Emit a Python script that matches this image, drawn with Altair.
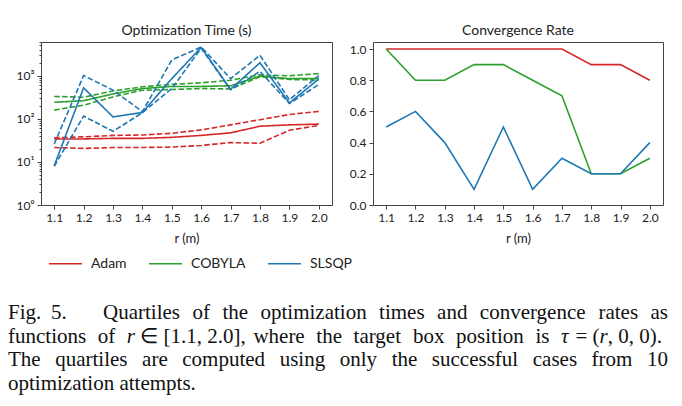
import altair as alt
import pandas as pd

# ---- values -------------------------------------------------------------
r_values = [1.1, 1.2, 1.3, 1.4, 1.5, 1.6, 1.7, 1.8, 1.9, 2.0]
methods = ["Adam", "COBYLA", "SLSQP"]
method_colors = ["#d62728", "#2ca02c", "#1f77b4"]

# optimization time quartiles (seconds)
adam_q1 = [21.5, 20.5, 21.5, 21.5, 22, 24, 28, 27, 54, 70]
adam_med = [34, 34, 35, 35, 37, 41, 47, 67, 72, 75]
adam_q3 = [36, 38, 41, 42, 46, 55, 72, 95, 125, 148]

cobyla_q1 = [158, 206, 320, 457, 475, 500, 490, 940, 810, 790]
cobyla_med = [240, 262, 375, 500, 560, 560, 580, 970, 850, 860]
cobyla_q3 = [328, 315, 440, 550, 625, 680, 780, 1040, 990, 1110]

slsqp_q1 = [7.9, 115, 51, 138, 500, 4300, 470, 1250, 225, 620]
slsqp_med = [8.1, 520, 110, 140, 850, 4500, 480, 1980, 232, 830]
slsqp_q3 = [26, 1000, 460, 146, 2300, 4600, 850, 2950, 275, 1000]

# convergence rates
rate_adam = [1.0, 1.0, 1.0, 1.0, 1.0, 1.0, 1.0, 0.9, 0.9, 0.8]
rate_cobyla = [1.0, 0.8, 0.8, 0.9, 0.9, 0.8, 0.7, 0.2, 0.2, 0.3]
rate_slsqp = [0.5, 0.6, 0.4, 0.1, 0.5, 0.1, 0.3, 0.2, 0.2, 0.4]

# ---- tables -------------------------------------------------------------
quartiles = {
    "Adam": (adam_q1, adam_med, adam_q3),
    "COBYLA": (cobyla_q1, cobyla_med, cobyla_q3),
    "SLSQP": (slsqp_q1, slsqp_med, slsqp_q3),
}
time_rows = []
for m in methods:
    q1, med, q3 = quartiles[m]
    for stat, vals in (("q1", q1), ("q3", q3), ("median", med)):
        for r, v in zip(r_values, vals):
            time_rows.append({"r": r, "time": v, "method": m, "stat": stat,
                              "series": f"{m}-{stat}"})
time_df = pd.DataFrame(time_rows)

rates = {"Adam": rate_adam, "COBYLA": rate_cobyla, "SLSQP": rate_slsqp}
rate_df = pd.DataFrame([
    {"r": r, "rate": v, "method": m}
    for m in methods for r, v in zip(r_values, rates[m])
])

# ---- caption, justified with Times metrics --------------------------------
FONT_PX = 21
ROMAN = {
    " ": 250, ".": 250, ",": 250, "(": 333, ")": 333, "[": 333, "]": 333,
    "=": 564, "\u2208": 667, "\u03c4": 440,
    "F": 556, "Q": 722, "T": 611,
    "a": 444, "b": 500, "c": 444, "d": 500, "e": 444, "f": 333, "g": 500,
    "h": 500, "i": 278, "j": 278, "k": 500, "l": 278, "m": 778, "n": 500,
    "o": 500, "p": 500, "q": 500, "r": 333, "s": 389, "t": 278, "u": 500,
    "v": 500, "w": 722, "x": 500, "y": 500, "z": 444,
}
ITALIC = {"r": 389, "\u03c4": 440}


def piece_width(text, italic):
    table = ITALIC if italic else ROMAN
    return sum(table.get(ch, ROMAN.get(ch, 500)) for ch in text) * FONT_PX / 1000


def word(*pieces):
    return [p if isinstance(p, tuple) else (p, False) for p in pieces]


caption_lines = [
    # (baseline, left, right, words, justify)
    (319, 102, 667, [word("Quartiles"), word("of"), word("the"), word("optimization"),
                     word("times"), word("and"), word("convergence"), word("rates"),
                     word("as")], True),
    (343, 7, 661, [word("functions"), word("of"),
                   word(("r", True), " \u2208 [1.1, 2.0],"),
                   word("where"), word("the"), word("target"), word("box"),
                   word("position"), word("is"),
                   word(("\u03c4", True), " = (", ("r", True), ", 0, 0).")], True),
    (366, 7, 667, [word("The"), word("quartiles"), word("are"), word("computed"),
                   word("using"), word("only"), word("the"), word("successful"),
                   word("cases"), word("from"), word("10")], True),
    (390, 7, 667, [word("optimization"), word("attempts.")], False),
]

PLOT_LEFT, PLOT_TOP = 40, 42  # page position of the left plot area
caption_rows = [
    {"text": "Fig.", "px": 7 - PLOT_LEFT, "py": 319 - PLOT_TOP, "italic": False},
    {"text": "5.", "px": 50 - PLOT_LEFT, "py": 319 - PLOT_TOP, "italic": False},
]
for base, left, right, words, justify in caption_lines:
    widths = [sum(piece_width(t, it) for t, it in w) for w in words]
    if justify:
        gap = (right - left - sum(widths)) / (len(words) - 1)
    else:
        gap = piece_width(" ", False)
    x = left
    for w, wd in zip(words, widths):
        px = x
        for t, it in w:
            # svg drops leading blanks, so they become an offset instead
            stripped = t.lstrip(" ")
            lead = piece_width(t[: len(t) - len(stripped)], it)
            caption_rows.append({"text": stripped, "px": px + lead - PLOT_LEFT,
                                 "py": base - PLOT_TOP, "italic": it})
            px += piece_width(t, it)
        x += wd + gap
caption_df = pd.DataFrame(caption_rows)

# ---- shared encodings -----------------------------------------------------
x_scale = alt.Scale(domain=[1.055, 2.045], nice=False, zero=False)
x_axis = alt.Axis(values=r_values, format=".1f", title="r (m)", tickSize=4,
                  labelPadding=3, titlePadding=9)
color = alt.Color("method:N", scale=alt.Scale(domain=methods, range=method_colors),
                  legend=alt.Legend(title=None, orient="none", legendX=7,
                                    legendY=204, direction="horizontal"))

time_scale = alt.Scale(type="log", domain=[1, 6000], nice=False)
major_labels = "'10' + ['\u2070','\u00b9','\u00b2','\u00b3'][round(log(datum.value) / LN10)]"
minor_values = [k * 10 ** e for e in range(0, 4) for k in range(2, 10) if k * 10 ** e <= 6000]

W_LEFT, W_RIGHT, H = 291, 290, 163

time_lines = alt.Chart(time_df).mark_line(strokeWidth=1.6).encode(
    x=alt.X("r:Q", scale=x_scale, axis=x_axis),
    y=alt.Y("time:Q", scale=time_scale,
            axis=alt.Axis(values=[1, 10, 100, 1000], labelExpr=major_labels,
                          title=None, tickSize=4, labelPadding=3, orient="left")),
    color=color,
    strokeDash=alt.StrokeDash("stat:N", scale=alt.Scale(
        domain=["median", "q1", "q3"], range=[[1, 0], [5.5, 2.4], [5.5, 2.4]]),
        legend=None),
    detail="series:N",
)

# minor ticks of the log axis
time_minor = alt.Chart(time_df).mark_line(opacity=0).encode(
    x=alt.X("r:Q", scale=x_scale, axis=x_axis),
    y=alt.Y("time:Q", scale=time_scale,
            axis=alt.Axis(values=minor_values, labels=False, title=None,
                          tickSize=2, orient="left", domain=False)),
    detail="series:N",
)

caption_base = alt.Chart(caption_df).encode(
    x=alt.X("px:Q", scale=None, axis=None),
    y=alt.Y("py:Q", scale=None, axis=None),
    text="text:N",
)
caption_roman = caption_base.mark_text(
    align="left", baseline="alphabetic", font="Liberation Serif",
    fontSize=FONT_PX, color="#111").transform_filter("!datum.italic")
caption_italic = caption_base.mark_text(
    align="left", baseline="alphabetic", font="Liberation Serif",
    fontSize=FONT_PX, fontStyle="italic", color="#111").transform_filter("datum.italic")

left = alt.layer(time_lines, time_minor, caption_roman, caption_italic).resolve_axis(
    y="independent").properties(
    width=W_LEFT, height=H,
    title=alt.Title("Optimization Time (s)", offset=4),
)

right = alt.Chart(rate_df).mark_line(strokeWidth=1.6).encode(
    x=alt.X("r:Q", scale=x_scale, axis=x_axis),
    y=alt.Y("rate:Q", scale=alt.Scale(domain=[0, 1.045], nice=False, zero=False),
            axis=alt.Axis(values=[0, 0.2, 0.4, 0.6, 0.8, 1.0], format=".1f",
                          title=None, tickSize=4, labelPadding=3)),
    color=color,
).properties(width=W_RIGHT, height=H,
             title=alt.Title("Convergence Rate", offset=4))

chart = alt.hconcat(left, right, spacing=41, bounds="flush").resolve_scale(
    color="shared"
).properties(
    padding={"left": 7, "top": 23, "right": 5, "bottom": 4}
).configure_view(
    stroke="#444", strokeWidth=1
).configure_axis(
    labelFont="Lato", labelFontSize=12, labelColor="#222",
    titleFont="Lato", titleFontSize=13, titleFontWeight="normal", titleColor="#222",
    tickColor="#444", domain=False, grid=False,
).configure_title(
    font="Lato", fontSize=14, fontWeight="normal", color="#222", anchor="middle",
).configure_legend(
    labelFont="Lato", labelFontSize=14, labelColor="#222",
    symbolType="stroke", symbolSize=1089, symbolStrokeWidth=1.6,
    labelOffset=8, columnPadding=18, padding=0,
)

chart.save("out.html", embed_options={"renderer": "svg", "actions": False})
